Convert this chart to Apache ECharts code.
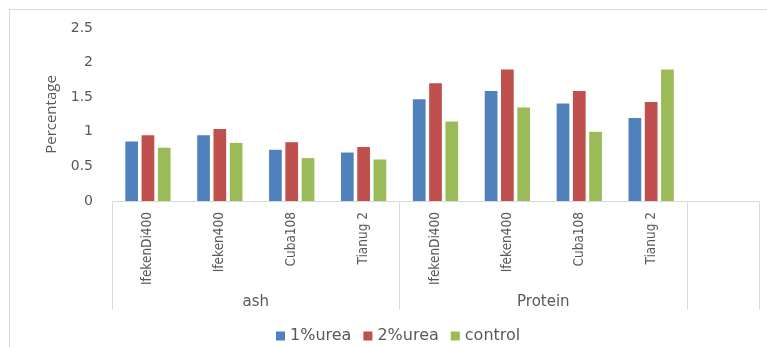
<!DOCTYPE html>
<html>
<head>
<meta charset="utf-8">
<script src="https://cdn.jsdelivr.net/npm/echarts@6/dist/echarts.min.js"></script>
<style>
  html, body { margin: 0; padding: 0; background: #ffffff; }
  #frame {
    position: absolute; left: 9px; top: 9px; right: 0; bottom: 0;
    border-left: 1px solid #d9d9d9; border-top: 1px solid #d9d9d9;
  }
  #chart { position: absolute; left: 0; top: 0; width: 767px; height: 347px; }
</style>
</head>
<body>
<div id="frame"></div>
<div id="chart"></div>
<script>
// Varieties measured within each nutrient group
const varieties = ['IfekenDi400', 'Ifeken400', 'Cuba108', 'Tianug 2'];
const groups = ['ash', 'Protein'];

// Percentages per treatment: ash values first, then protein values
const urea1 = [0.86, 0.95, 0.74, 0.70, 1.47, 1.59, 1.41, 1.20];
const urea2 = [0.95, 1.04, 0.85, 0.78, 1.70, 1.90, 1.59, 1.43];
const control = [0.77, 0.84, 0.62, 0.60, 1.15, 1.35, 1.00, 1.90];

const seriesNames = ['1%urea', '2%urea', 'control'];
const yTicks = [0, 0.5, 1, 1.5, 2, 2.5];

// Category axis: every variety under each group, plus one trailing empty slot
const categories = [];
groups.forEach(function () { varieties.forEach(function (v) { categories.push(v); }); });
categories.push('');
const slotCount = categories.length;

// Group label positions sit at the middle of each group's span
const groupCentres = {};
groups.forEach(function (g, i) {
  groupCentres[i * varieties.length + varieties.length / 2] = g;
});

const colors = ['#4f81bd', '#c0504d', '#9bbb59'];
const axisText = '#595959';
const lineGrey = '#d9d9d9';

const chart = echarts.init(document.getElementById('chart'), null, { renderer: 'canvas' });
chart.setOption({
  animation: false,
  color: colors,
  grid: { left: 112, right: 8, top: 28, bottom: 146, containLabel: false },
  legend: {
    data: seriesNames,
    left: 271,
    top: 323,
    itemWidth: 9,
    itemHeight: 9,
    itemGap: 12,
    icon: 'rect',
    textStyle: { color: axisText, fontSize: 16, fontFamily: 'DejaVu Sans' }
  },
  xAxis: [
    {
      type: 'category',
      data: categories,
      position: 'bottom',
      axisLine: { show: true, lineStyle: { color: lineGrey, width: 1 } },
      axisTick: {
        show: true,
        length: 109,
        lineStyle: { color: lineGrey, width: 1 },
        interval: function (idx) { return idx % varieties.length === 0; }
      },
      axisLabel: {
        interval: 0,
        rotate: 90,
        margin: 11,
        color: axisText,
        fontSize: 13.5,
        fontFamily: 'Liberation Sans Narrow, DejaVu Sans Condensed, sans-serif'
      },
      splitLine: { show: false }
    },
    {
      type: 'value',
      min: 0,
      max: slotCount,
      interval: 1,
      position: 'bottom',
      offset: 92,
      axisLine: { show: false },
      axisTick: { show: false },
      splitLine: { show: false },
      axisLabel: {
        margin: 2,
        color: axisText,
        fontSize: 15,
        fontFamily: 'DejaVu Sans',
        showMinLabel: true,
        showMaxLabel: true,
        formatter: function (v) { return groupCentres[v] || ''; }
      }
    }
  ],
  yAxis: {
    type: 'value',
    min: yTicks[0],
    max: yTicks[yTicks.length - 1],
    interval: yTicks[1] - yTicks[0],
    name: 'Percentage',
    nameLocation: 'middle',
    nameGap: 53,
    nameTextStyle: { color: axisText, fontSize: 15, fontFamily: 'Open Sans' },
    axisLine: { show: false },
    axisTick: { show: false },
    splitLine: { show: false },
    axisLabel: {
      margin: 19,
      color: axisText,
      fontSize: 14,
      fontFamily: 'DejaVu Sans'
    }
  },
  series: [
    { name: seriesNames[0], type: 'bar', data: urea1, barGap: '28%', barCategoryGap: '37%' },
    { name: seriesNames[1], type: 'bar', data: urea2, barGap: '28%', barCategoryGap: '37%' },
    { name: seriesNames[2], type: 'bar', data: control, barGap: '28%', barCategoryGap: '37%' }
  ]
});
</script>
</body>
</html>
